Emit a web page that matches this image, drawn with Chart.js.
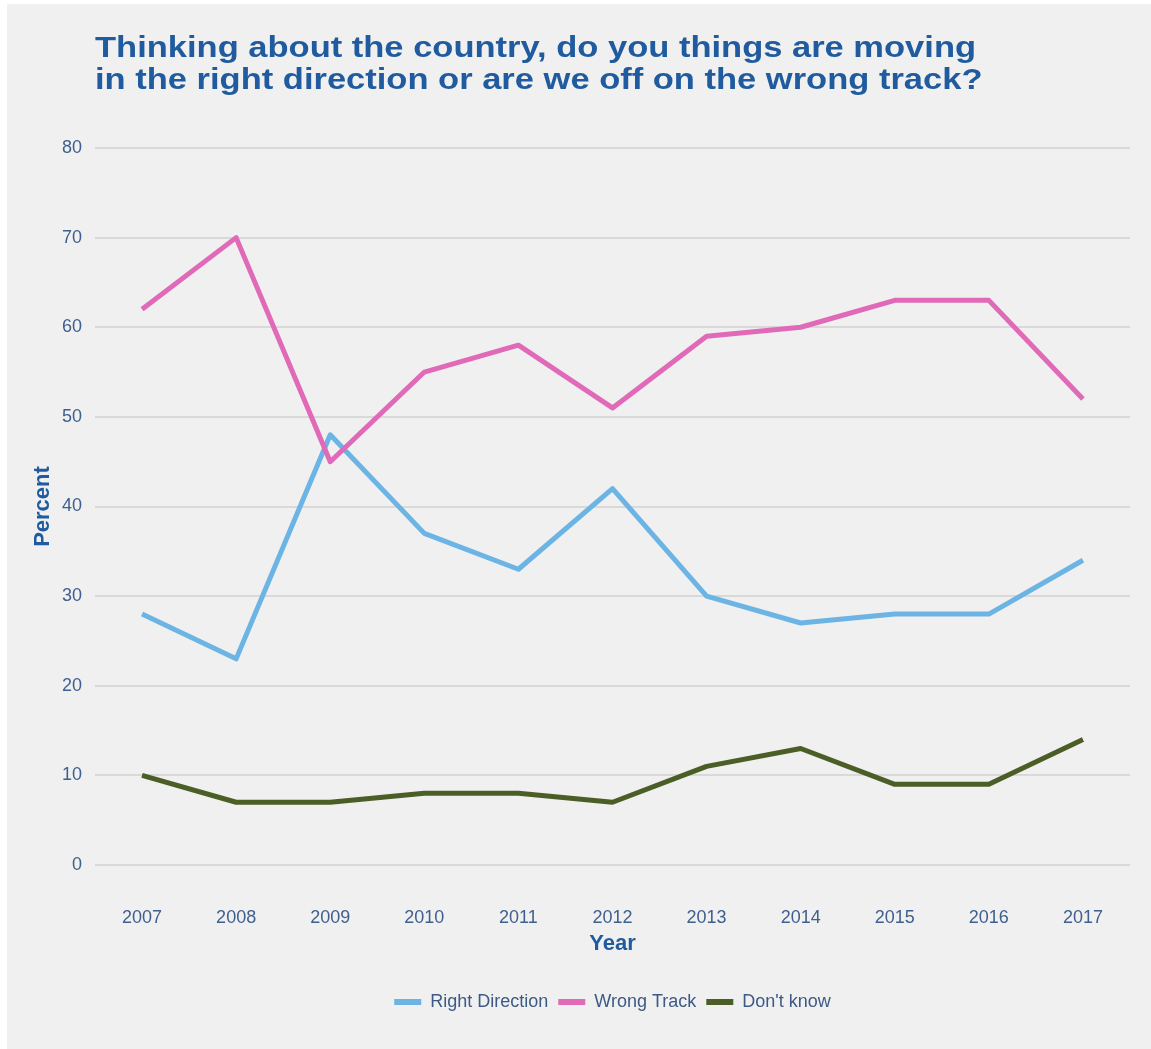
<!DOCTYPE html>
<html>
<head>
<meta charset="utf-8">
<script src="https://cdn.jsdelivr.net/npm/chart.js@4.4.0/dist/chart.umd.min.js"></script>
<style>
  html, body { margin: 0; padding: 0; background: #ffffff; }
  #panel { position: absolute; left: 7px; top: 4px; width: 1144px; height: 1045px; background: #f0f0f0; }
  #title { position: absolute; left: 88px; top: 26.6px; margin: 0; font-family: "Liberation Sans", Arial, sans-serif;
           font-weight: bold; font-size: 30px; line-height: 32px; color: #1f5b9e; white-space: nowrap;
           transform: scaleX(1.15); transform-origin: left top; }
  #wrap { position: absolute; left: 0; top: 0; width: 1144px; height: 1045px; }
</style>
</head>
<body>
<div id="panel">
  <div id="wrap"><canvas id="c"></canvas></div>
  <div id="title">Thinking about the country, do you things are moving<br>in the right direction or are we off on the wrong track?</div>
</div>
<script>
const years = ["2007","2008","2009","2010","2011","2012","2013","2014","2015","2016","2017"];
const rightDirection = [28, 23, 48, 37, 33, 42, 30, 27, 28, 28, 34];
const wrongTrack     = [62, 70, 45, 55, 58, 51, 59, 60, 63, 63, 52];
const dontKnow       = [10, 7, 7, 8, 8, 7, 11, 13, 9, 9, 14];
const seriesNames = ["Right Direction", "Wrong Track", "Don't know"];
const seriesColors = ["#6cb4e4", "#e06ab8", "#4b5e26"];
const yTicks = [0, 10, 20, 30, 40, 50, 60, 70, 80];

const font = "'Liberation Sans', Arial, sans-serif";
const tickColor = "#3f5f8f";
const titleColor = "#1f5b9e";

const values = [rightDirection, wrongTrack, dontKnow];
const orders = [2, 1, 0];
const datasets = values.map((v, i) => ({
  label: seriesNames[i],
  data: v,
  borderColor: seriesColors[i],
  backgroundColor: seriesColors[i],
  borderWidth: 5,
  pointRadius: 0,
  pointHoverRadius: 0,
  tension: 0,
  borderJoinStyle: 'round',
  fill: false,
  order: orders[i]
}));

const centerLegend = {
  id: 'centerLegend',
  afterLayout(chart) {
    const lg = chart.legend, ca = chart.chartArea;
    if (!lg || !ca) return;
    const shift = (ca.left + ca.right) / 2 - (lg.left + lg.right) / 2;
    lg.left += shift; lg.right += shift;
  }
};

new Chart(document.getElementById('c'), {
  type: 'line',
  data: { labels: years, datasets },
  plugins: [centerLegend],
  options: {
    responsive: true,
    maintainAspectRatio: false,
    animation: false,
    layout: { padding: { left: 23, right: 21, top: 144, bottom: 28 } },
    plugins: {
      title: { display: false },
      tooltip: { enabled: false },
      legend: {
        position: 'bottom',
        labels: {
          font: { family: font, size: 18 },
          color: "#3d5a85",
          boxWidth: 27,
          boxHeight: 6,
          padding: 10,
          sort: (a, b) => a.datasetIndex - b.datasetIndex,
          generateLabels: (chart) => chart.data.datasets.map((ds, i) => ({
            text: ds.label,
            fillStyle: ds.borderColor,
            strokeStyle: 'rgba(0,0,0,0)',
            lineWidth: 0,
            fontColor: "#3d5a85",
            hidden: false,
            datasetIndex: i
          }))
        }
      }
    },
    scales: {
      x: {
        offset: true,
        grid: { display: false, drawTicks: false },
        border: { display: false },
        ticks: { font: { family: font, size: 18 }, color: tickColor, padding: 42 },
        title: { display: true, text: 'Year', font: { family: font, size: 22, weight: 'bold' }, color: titleColor, padding: { top: 0, bottom: 26 } },
        afterFit: (axis) => { axis.height = 118; }
      },
      y: {
        min: 0, max: 80,
        afterBuildTicks: (axis) => { axis.ticks = yTicks.map(v => ({ value: v })); },
        grid: { color: '#d9d9d9', lineWidth: 2, drawTicks: false },
        border: { display: false },
        ticks: { font: { family: font, size: 18 }, color: tickColor, padding: 13 },
        title: { display: true, text: 'Percent', font: { family: font, size: 22, weight: 'bold' }, color: titleColor, padding: { top: 0, bottom: 8 } },
        afterFit: (axis) => { axis.width = 65; }
      }
    }
  }
});
</script>
</body>
</html>
